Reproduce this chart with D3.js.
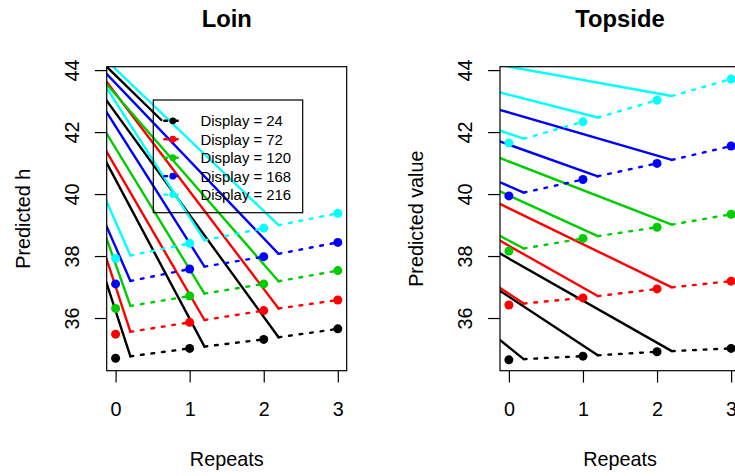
<!DOCTYPE html>
<html>
<head>
<meta charset="utf-8">
<script src="https://cdn.jsdelivr.net/npm/d3@7"></script>
<style>
  body { margin: 0; background: #fff; }
  text { font-family: "Liberation Sans", Arial, Helvetica, sans-serif; fill: #000; }
</style>
</head>
<body>
<svg id="chart" width="735" height="476"></svg>
<script>
// Predicted values by number of repeats, one row per display level
const repeats = [0, 1, 2, 3];
const displays = [24, 72, 120, 168, 216];
const seriesColors = ["#000000", "#FF0000", "#00CD00", "#0000FF", "#00FFFF"];
const yTicks = [36, 38, 40, 42, 44];

const loinPred = [
  [34.70, 35.02, 35.31, 35.65],
  [35.48, 35.86, 36.24, 36.58],
  [36.31, 36.71, 37.10, 37.53],
  [37.10, 37.58, 37.98, 38.44],
  [37.92, 38.41, 38.90, 39.38]
];
// slope of the solid line that meets each repeat-to-repeat segment
const loinSlope = [
  [-7.33, -4.49, -3.29],
  [-7.30, -4.11, -3.15],
  [-6.75, -3.91, -2.74],
  [-5.48, -3.77, -2.50],
  [-5.42, -3.72, -2.29]
];

const topsidePred = [
  [34.65, 34.77, 34.91, 35.02],
  [36.42, 36.65, 36.94, 37.19],
  [38.16, 38.57, 38.93, 39.35],
  [39.94, 40.47, 40.99, 41.55],
  [41.65, 42.33, 43.03, 43.71]
];
const topsideSlope = [
  [-1.920, -1.575, -1.358],
  [-1.585, -1.353, -1.160],
  [-1.270, -1.093, -0.926],
  [-1.050, -0.850, -0.695],
  [-0.815, -0.614, -0.430]
];

const panels = [
  { title: "Loin", ylab: "Predicted h", pred: loinPred, slope: loinSlope, left: 106.7, legend: true },
  { title: "Topside", ylab: "Predicted value", pred: topsidePred, slope: topsideSlope, left: 500.0, legend: false }
];

const svg = d3.select("#chart");
const plotTop = 66.7, plotBottom = 370.7, plotW = 240;
const base = 19.8;            // base font size
const tickLen = 11.9;
const reach = 0.2;            // solid lines stop this far past each repeat
const dotted = "2.8 7.8";
const lineW = 2.4;

panels.forEach((p, pi) => {
  const g = svg.append("g");
  const x = d3.scaleLinear().domain([-0.12, 3.12]).range([p.left, p.left + plotW]);
  const y = d3.scaleLinear().domain([34.30, 44.11]).range([plotBottom, plotTop]);

  const clipId = "clip" + pi;
  svg.append("clipPath").attr("id", clipId)
    .append("rect").attr("x", p.left).attr("y", plotTop).attr("width", plotW).attr("height", plotBottom - plotTop);

  const marks = g.append("g").attr("clip-path", `url(#${clipId})`);

  p.pred.forEach((vals, si) => {
    const col = seriesColors[si];
    for (let k = 0; k < repeats.length - 1; k++) {
      const xe = repeats[k] + reach;
      const ye = vals[k] + reach * (vals[k + 1] - vals[k]) / (repeats[k + 1] - repeats[k]);
      const x0 = x.domain()[0] - 0.05;
      const y0 = ye + p.slope[si][k] * (x0 - xe);
      // solid line running in from the left
      marks.append("line")
        .attr("x1", x(x0)).attr("y1", y(y0))
        .attr("x2", x(xe)).attr("y2", y(ye))
        .attr("stroke", col).attr("stroke-width", lineW).attr("stroke-linecap", "round");
      // dotted continuation to the next repeat
      marks.append("line")
        .attr("x1", x(xe)).attr("y1", y(ye))
        .attr("x2", x(repeats[k + 1])).attr("y2", y(vals[k + 1]))
        .attr("stroke", col).attr("stroke-width", lineW).attr("stroke-linecap", "round")
        .attr("stroke-dasharray", dotted);
    }
    marks.selectAll(null).data(vals).enter().append("circle")
      .attr("cx", (d, i) => x(repeats[i])).attr("cy", d => y(d))
      .attr("r", 4.5).attr("fill", col);
  });

  // frame
  g.append("rect").attr("x", p.left).attr("y", plotTop).attr("width", plotW).attr("height", plotBottom - plotTop)
    .attr("fill", "none").attr("stroke", "#000").attr("stroke-width", 1.2);

  // x axis
  const xa = g.append("g").attr("transform", `translate(0,${plotBottom})`)
    .call(d3.axisBottom(x).tickValues(repeats).tickSize(tickLen).tickSizeOuter(0).tickFormat(d3.format("d")));
  xa.select(".domain").remove();
  xa.attr("font-family", null);
  xa.selectAll(".tick line").attr("stroke", "#000").attr("stroke-width", 1.2);
  xa.selectAll(".tick text").attr("font-size", base).attr("y", 45.8).attr("dy", null).attr("fill", "#000");

  // y axis
  const ya = g.append("g").attr("transform", `translate(${p.left},0)`)
    .call(d3.axisLeft(y).tickValues(yTicks).tickSize(tickLen).tickSizeOuter(0).tickFormat(d3.format("d")));
  ya.select(".domain").remove();
  ya.attr("font-family", null);
  ya.selectAll(".tick line").attr("stroke", "#000").attr("stroke-width", 1.2);
  ya.selectAll(".tick text").attr("font-size", base).attr("x", null).attr("dy", null)
    .attr("text-anchor", "middle").attr("fill", "#000")
    .attr("transform", "translate(-27.7,0) rotate(-90)");

  // titles
  g.append("text").attr("x", p.left + plotW / 2).attr("y", 27)
    .attr("text-anchor", "middle").attr("font-size", base * 1.2).attr("font-weight", "bold").text(p.title);
  g.append("text").attr("x", p.left + plotW / 2).attr("y", 465.8)
    .attr("text-anchor", "middle").attr("font-size", base).text("Repeats");
  g.append("text").attr("transform", `translate(${p.left - 76.7},${(plotTop + plotBottom) / 2}) rotate(-90)`)
    .attr("text-anchor", "middle").attr("font-size", base).text(p.ylab);

  if (p.legend) {
    const lx = p.left + 46.6, ly = 100, lw = 149.4, lh = 112.7;
    const lg = g.append("g");
    lg.append("rect").attr("x", lx).attr("y", ly).attr("width", lw).attr("height", lh)
      .attr("fill", "none").attr("stroke", "#000").attr("stroke-width", 1.2);
    // leader from the upper-left corner of the plotting region to the first key
    const firstKeyY = ly + 20.8;
    marks.append("line")
      .attr("x1", x(x.domain()[0])).attr("y1", y(y.domain()[1]))
      .attr("x2", lx + 8).attr("y2", firstKeyY - 0.8)
      .attr("stroke", seriesColors[0]).attr("stroke-width", lineW).attr("stroke-linecap", "round");
    displays.forEach((d, i) => {
      const cy = ly + 20.8 + 18.45 * i;
      lg.append("line").attr("x1", lx + 11).attr("x2", lx + 29).attr("y1", cy).attr("y2", cy)
        .attr("stroke", seriesColors[i]).attr("stroke-width", lineW).attr("stroke-linecap", "round")
        .attr("stroke-dasharray", dotted);
      lg.append("circle").attr("cx", lx + 19.5).attr("cy", cy).attr("r", 3.4).attr("fill", seriesColors[i]);
      lg.append("text").attr("x", lx + 47.2).attr("y", cy + 5.5).attr("font-size", 14.9)
        .text(`Display = ${d}`);
    });
  }
});
</script>
</body>
</html>
